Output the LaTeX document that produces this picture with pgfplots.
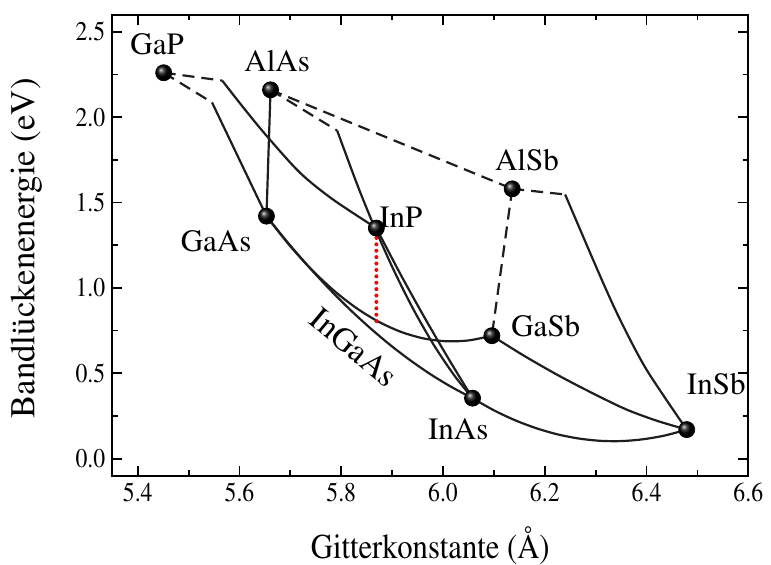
\documentclass[border=0pt]{standalone}
\usepackage[T1]{fontenc}
\renewcommand{\rmdefault}{ptm}
\usepackage{graphicx}
\usepackage{pgfplots}
\pgfplotsset{compat=1.18}

\definecolor{curve}{HTML}{1E1E1E}

% horizontally narrowed text
\newcommand{\narrow}[1]{\scalebox{0.88}[1]{#1}}

\tikzset{
  direct/.style={curve, line width=1.1pt},
  indirect/.style={curve, line width=1.1pt, dash pattern=on 6pt off 3.5pt},
  lbl/.style={font=\rmfamily\fontsize{15.5}{18}\selectfont, inner sep=0pt},
}

\begin{document}
\begin{tikzpicture}[font=\rmfamily]
\begin{axis}[
  width=318pt, height=230.5pt, scale only axis,
  xmin=5.35, xmax=6.6, ymin=-0.1, ymax=2.6,
  xtick={5.4,5.6,5.8,6.0,6.2,6.4,6.6},
  minor xtick={5.5,5.7,5.9,6.1,6.3,6.5},
  ytick={0,0.5,1,1.5,2,2.5},
  minor ytick={0.25,0.75,1.25,1.75,2.25},
  tick align=inside,
  major tick length=5pt, minor tick length=2.8pt,
  every tick/.append style={line width=0.9pt, black},
  axis line style={line width=1.1pt},
  /pgf/number format/fixed,
  /pgf/number format/fixed zerofill,
  /pgf/number format/precision=1,
  /pgf/number format/assume math mode=true,
  xticklabel={\narrow{\pgfmathprintnumber{\tick}}},
  yticklabel={\narrow{\pgfmathprintnumber{\tick}}},
  tick label style={font=\rmfamily\fontsize{13.5}{16}\selectfont},
  xlabel={\narrow{Gitterkonstante (\AA)}},
  ylabel={Bandl\"uckenenergie (eV)},
  xlabel style={font=\rmfamily\fontsize{17.4}{20}\selectfont, at={(axis description cs:0.5,-0.153)}, anchor=center},
  ylabel style={font=\rmfamily\fontsize{17.4}{20}\selectfont, at={(axis description cs:-0.135,0.493)}, anchor=center},
  clip=false,
]

% indirect-gap branches
\addplot[indirect] coordinates {(5.451,2.26) (5.566,2.214)};
\addplot[indirect] coordinates {(5.451,2.26) (5.546,2.086)};
\addplot[indirect] coordinates {(5.661,2.16) (5.792,1.921)};
\addplot[indirect] coordinates {(5.661,2.16) (6.136,1.58)};
\addplot[indirect] coordinates {(6.136,1.58) (6.240,1.547)};
\addplot[indirect] coordinates {(6.136,1.58) (6.096,0.72)};

% direct-gap ternaries
% GaInP
\addplot[direct, smooth] coordinates {(5.566,2.214) (5.61,2.047) (5.654,1.888) (5.719,1.674) (5.784,1.517) (5.869,1.35)};
% GaAsP
\addplot[direct] coordinates {(5.546,2.086) (5.653,1.42)};
% AlGaAs
\addplot[direct] coordinates {(5.661,2.16) (5.653,1.42)};
% AlInAs
\addplot[direct, smooth] coordinates {(5.792,1.921) (5.832,1.600) (5.866,1.351) (5.902,1.111) (5.942,0.873) (5.982,0.665) (6.022,0.488) (6.058,0.354)};
% InAsP
\addplot[direct, smooth] coordinates {(5.869,1.35) (5.916,1.082) (5.9635,0.827) (6.011,0.584) (6.058,0.354)};
% InGaAs
\addplot[direct, smooth] coordinates {(5.653,1.42) (5.6935,1.2705) (5.734,1.1305) (5.7745,1.0) (5.815,0.879) (5.8555,0.768) (5.896,0.666) (5.9365,0.574) (5.977,0.491) (6.0175,0.418) (6.058,0.354)};
% GaAsSb
\addplot[direct, smooth] coordinates {(5.653,1.42) (5.6973,1.2528) (5.7416,1.1072) (5.7859,0.9832) (5.8302,0.8808) (5.8745,0.80) (5.9188,0.7408) (5.9631,0.7032) (6.0074,0.6872) (6.0517,0.6928) (6.096,0.72)};
% GaInSb
\addplot[direct, smooth] coordinates {(6.096,0.72) (6.16,0.601) (6.230,0.482) (6.30,0.374) (6.361,0.287) (6.42,0.222) (6.479,0.17)};
% AlInSb
\addplot[direct, smooth] coordinates {(6.240,1.547) (6.309,1.068) (6.348,0.814) (6.400,0.521) (6.479,0.17)};
% InAsSb
\addplot[direct, smooth] coordinates {(6.058,0.354) (6.0999,0.283) (6.1422,0.224) (6.1843,0.177) (6.2264,0.141) (6.2685,0.117) (6.3106,0.104) (6.3527,0.103) (6.3948,0.114) (6.4369,0.136) (6.479,0.17)};

% InGaAs lattice-matched to InP
\addplot[red, line width=2pt, line cap=round, dash pattern=on 0pt off 3.2pt] coordinates {(5.869,1.33) (5.869,0.77)};

% binary compounds
\addplot[only marks, mark=ball, mark size=4pt, mark options={ball color=black}] coordinates {
  (5.451,2.26) (5.661,2.16) (6.136,1.58) (5.653,1.42)
  (5.869,1.35) (6.096,0.72) (6.058,0.354) (6.479,0.17)};

\node[lbl] at (axis cs:5.438,2.425) {GaP};
\node[lbl] at (axis cs:5.674,2.325) {AlAs};
\node[lbl] at (axis cs:6.165,1.751) {AlSb};
\node[lbl] at (axis cs:5.554,1.271) {GaAs};
\node[lbl] at (axis cs:5.917,1.412) {InP};
\node[lbl] at (axis cs:6.202,0.773) {GaSb};
\node[lbl] at (axis cs:6.030,0.170) {InAs};
\node[lbl] at (axis cs:6.537,0.439) {InSb};
\node[lbl, font=\rmfamily\fontsize{16.5}{19}\selectfont, rotate=-40] at (axis cs:5.825,0.652) {InGaAs};
\end{axis}
\pgfresetboundingbox
\path[use as bounding box] ([shift={(-56.15pt,-44.65pt)}]current axis.south west) rectangle ([shift={(11.35pt,7.35pt)}]current axis.north east);
\end{tikzpicture}
\end{document}
